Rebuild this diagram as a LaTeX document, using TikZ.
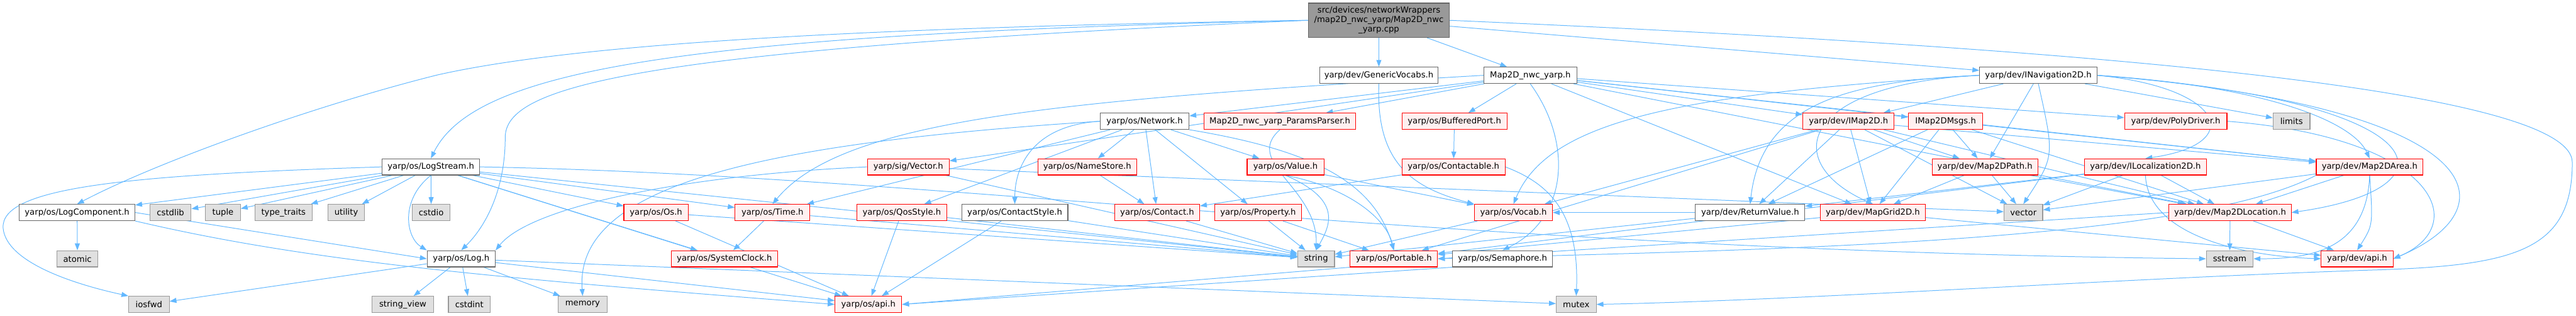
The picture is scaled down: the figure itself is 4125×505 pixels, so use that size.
\documentclass[tikz,border=0pt]{standalone}
\usepackage{fontspec}
\setmainfont{DejaVu Sans}
\usetikzlibrary{arrows.meta}
\definecolor{eb}{HTML}{63B8FF}
\definecolor{redb}{HTML}{FF0000}
\definecolor{redf}{HTML}{FFF0F0}
\definecolor{grf}{HTML}{E0E0E0}
\definecolor{grb}{HTML}{999999}
\definecolor{nb}{HTML}{666666}
\pgfdeclarelayer{bg}
\pgfsetlayers{bg,main}
\begin{document}
\begin{tikzpicture}[x=1pt,y=-1pt,
 box/.style={rectangle,draw=nb,fill=white,line width=1.1pt,minimum height=26pt,inner sep=0pt,font=\fontsize{13.3}{15}\selectfont},
 rbox/.style={box,draw=redb,fill=redf},
 sbox/.style={box,draw=grb,fill=grf},
 dep/.style={draw=eb,line width=1pt,-{Triangle[length=11pt,width=8pt]}}]
\useasboundingbox (0,0) rectangle (4125,505);
% row 1
\node[box,fill=grb,draw=nb,minimum width=226pt,minimum height=55pt,align=center] (root) at (2208,32.5) {src/devices/networkWrappers\\/map2D\_nwc\_yarp/Map2D\_nwc\\\_yarp.cpp};
% row 2
\node[box,minimum width=190pt] (gv) at (2208,120.5) {yarp/dev/GenericVocabs.h};
\node[box,minimum width=149pt] (m2h) at (2450.5,120.5) {Map2D\_nwc\_yarp.h};
\node[box,minimum width=188pt] (inav) at (3264,120.5) {yarp/dev/INavigation2D.h};
% row 3
\node[box,minimum width=142pt] (net) at (1833,194) {yarp/os/Network.h};
\node[rbox,minimum width=243pt] (pp) at (2049.5,194) {Map2D\_nwc\_yarp\_ParamsParser.h};
\node[rbox,minimum width=168pt] (bp) at (2329,194) {yarp/os/BufferedPort.h};
\node[rbox,minimum width=146pt] (imap) at (2960,194) {yarp/dev/IMap2D.h};
\node[rbox,minimum width=119pt] (msgs) at (3115.5,194) {IMap2DMsgs.h};
\node[rbox,minimum width=164pt] (poly) at (3484,194) {yarp/dev/PolyDriver.h};
\node[sbox,minimum width=59pt] (limits) at (3669.5,194) {limits};
% row 4
\node[box,minimum width=156pt] (ls) at (690,267) {yarp/os/LogStream.h};
\node[rbox,minimum width=131pt] (vec) at (1454.5,267) {yarp/sig/Vector.h};
\node[rbox,minimum width=158pt] (ns) at (1741,267) {yarp/os/NameStore.h};
\node[rbox,minimum width=123pt] (val) at (2058.5,267) {yarp/os/Value.h};
\node[rbox,minimum width=165pt] (cbl) at (2327.5,267) {yarp/os/Contactable.h};
\node[rbox,minimum width=169pt] (path) at (3178.5,267) {yarp/dev/Map2DPath.h};
\node[rbox,minimum width=195pt] (iloc) at (3435.5,267) {yarp/dev/ILocalization2D.h};
\node[rbox,minimum width=171pt] (area) at (3794.5,267) {yarp/dev/Map2DArea.h};
% row 5
\node[box,minimum width=185pt] (lc) at (123.5,340) {yarp/os/LogComponent.h};
\node[sbox,minimum width=66pt] (cstdlib) at (273,340) {cstdlib};
\node[sbox,minimum width=56pt] (tuple) at (357,340) {tuple};
\node[sbox,minimum width=92pt] (typetraits) at (454,340) {type\_traits};
\node[sbox,minimum width=59pt] (utility) at (554.5,340) {utility};
\node[sbox,minimum width=61pt] (cstdio) at (690.5,340) {cstdio};
\node[rbox,minimum width=103pt] (os) at (1050.5,340) {yarp/os/Os.h};
\node[rbox,minimum width=120pt] (time) at (1237,340) {yarp/os/Time.h};
\node[rbox,minimum width=144pt] (qos) at (1444,340) {yarp/os/QosStyle.h};
\node[box,minimum width=170pt] (cs) at (1625,340) {yarp/os/ContactStyle.h};
\node[rbox,minimum width=136pt] (con) at (1853,340) {yarp/os/Contact.h};
\node[rbox,minimum width=139pt] (prop) at (2014.5,340) {yarp/os/Property.h};
\node[rbox,minimum width=125pt] (voc) at (2423.5,340) {yarp/os/Vocab.h};
\node[box,minimum width=175pt] (rv) at (2802.5,340) {yarp/dev/ReturnValue.h};
\node[rbox,minimum width=168pt] (grid) at (2999,340) {yarp/dev/MapGrid2D.h};
\node[sbox,minimum width=62pt] (vector) at (3240,340) {vector};
\node[rbox,minimum width=196pt] (loc) at (3571,340) {yarp/dev/Map2DLocation.h};
% row 6
\node[sbox,minimum width=66pt] (atomic) at (124,414) {atomic};
\node[box,minimum width=109pt] (log) at (738.5,414) {yarp/os/Log.h};
\node[rbox,minimum width=170pt] (sc) at (1160,414) {yarp/os/SystemClock.h};
\node[sbox,minimum width=59pt] (string) at (2107.5,414) {string};
\node[rbox,minimum width=140pt] (port) at (2232,414) {yarp/os/Portable.h};
\node[box,minimum width=160pt] (sem) at (2406,414) {yarp/os/Semaphore.h};
\node[sbox,minimum width=75pt] (sstream) at (3570.5,414) {sstream};
\node[rbox,minimum width=115pt] (devapi) at (3774.5,414) {yarp/dev/api.h};
% row 7
\node[sbox,minimum width=65pt] (iosfwd) at (238.5,487) {iosfwd};
\node[sbox,minimum width=98pt] (sv) at (645,487) {string\_view};
\node[sbox,minimum width=67pt] (cstdint) at (751.5,487) {cstdint};
\node[sbox,minimum width=78pt] (memory) at (933,487) {memory};
\node[rbox,minimum width=107pt] (osapi) at (1390.5,487) {yarp/os/api.h};
\node[sbox,minimum width=64pt] (mutex) at (2524,487) {mutex};

\begin{pgfonlayer}{bg}
% root
\draw[dep] (root) -- (m2h);
\draw[dep] (root) -- (gv);
\draw[dep] (root) -- (inav);
\draw[dep] (root.west) .. controls (1300,45) and (900,75) .. (700,120) .. controls (500,170) and (250,260) .. (lc.north);
\draw[dep] (root.west) .. controls (1100,55) and (760,110) .. (ls.north);
\draw[dep] (root.west) .. controls (1000,80) and (809,140) .. (809,220) .. controls (809,300) and (780,360) .. (log.north);
\draw[dep] (root.east) .. controls (3300,75) and (4119,140) .. (4119,260) .. controls (4119,400) and (4030,425) .. (3800,432) .. controls (3400,445) and (2900,480) .. (mutex.east);
% GenericVocabs
\draw[dep] (gv.south) .. controls (2203,260) and (2260,300) .. (voc.north west);
% Map2D_nwc_yarp.h
\draw[dep] (m2h) -- (net);
\draw[dep] (m2h) -- (pp);
\draw[dep] (m2h) -- (bp);
\draw[dep] (m2h.south) .. controls (2520,230) and (2510,350) .. (sem.north);
\draw[dep] (m2h) -- (vec);
\draw[dep] (m2h.west) .. controls (1700,160) and (1350,190) .. (time.north);
\draw[dep] (m2h) -- (imap);
\draw[dep] (m2h) -- (msgs);
\draw[dep] (m2h) -- (poly);
\draw[dep] (m2h) -- (grid);
\draw[dep] (m2h) -- (loc);
\draw[dep] (m2h) -- (area);
% Network
\draw[dep] (net) -- (qos);
\draw[dep] (net.west) .. controls (1660,200) and (1625,260) .. (cs.north);
\draw[dep] (net) -- (ns);
\draw[dep] (net) -- (con);
\draw[dep] (net) -- (prop);
\draw[dep] (net) -- (val);
\draw[dep] (net.south east) .. controls (2100,240) and (2200,290) .. (port.north);
\draw[dep] (net.west) .. controls (1200,230) and (920,300) .. (memory.north);
\draw[dep] (net) -- (time);
% misc os
\draw[dep] (ns) -- (con);
\draw[dep] (val) -- (voc);
\draw[dep] (val.south) .. controls (2150,320) and (2130,360) .. (string.north);
\draw[dep] (val.south) .. controls (2160,300) and (2220,350) .. (port.north);
\draw[dep] (prop) -- (string);
\draw[dep] (prop) -- (port);
\draw[dep] (con) -- (string);
\draw[dep] (cs) -- (osapi);
\draw[dep] (cs) -- (string);
\draw[dep] (qos) -- (osapi);
\draw[dep] (qos) -- (string);
\draw[dep] (vec.west) .. controls (1100,280) and (850,330) .. (log.north east);
\draw[dep] (vec) -- (string);
\draw[dep] (vec) -- (vector);
\draw[dep] (cbl.east) .. controls (2470,290) and (2530,330) .. (mutex.north);
\draw[dep] (cbl) -- (con);
\draw[dep] (bp) -- (cbl);
\draw[dep] (pp.south) .. controls (1990,260) and (2110,300) .. (string.north);
\draw[dep] (voc) -- (string);
\draw[dep] (sem.south west) -- (osapi.east);
\draw[dep] (port.south west) -- (osapi.east);
\draw[dep] (os) -- (osapi);
\draw[dep] (os) -- (string);
\draw[dep] (time) -- (sc);
\draw[dep] (time) -- (string);
% LogComponent / Log
\draw[dep] (lc) -- (atomic);
\draw[dep] (lc.east) -- (log.west);
\draw[dep] (lc.south east) .. controls (500,420) and (800,445) .. (osapi.west);
\draw[dep] (log) -- (iosfwd);
\draw[dep] (log) -- (sv);
\draw[dep] (log) -- (cstdint);
\draw[dep] (log) -- (memory);
\draw[dep] (log) -- (osapi);
\draw[dep] (log) -- (mutex);
% LogStream
\draw[dep] (ls.west) .. controls (200,280) and (0,300) .. (5,365) .. controls (10,420) and (120,455) .. (iosfwd.north west);
\draw[dep] (ls) -- (lc);
\draw[dep] (ls) -- (cstdlib);
\draw[dep] (ls) -- (tuple);
\draw[dep] (ls) -- (typetraits);
\draw[dep] (ls) -- (utility);
\draw[dep] (ls) -- (cstdio);
\draw[dep] (ls.south) .. controls (640,320) and (650,380) .. (log.north west);
\draw[dep] (ls) -- (os);
\draw[dep] (ls) -- (time);
\draw[dep] (ls) -- (sc);
\draw[dep] (ls) -- (osapi);
\draw[dep] (ls) -- (string);
\draw[dep] (ls.east) .. controls (1500,280) and (2300,400) .. (sstream.west);
% dev headers
\draw[dep] (imap) -- (rv);
\draw[dep] (imap) -- (grid);
\draw[dep] (imap) -- (path);
\draw[dep] (imap) -- (vector);
\draw[dep] (imap) -- (loc);
\draw[dep] (imap) -- (area);
\draw[dep] (imap) -- (voc);
\draw[dep] (imap) -- (port);
\draw[dep] (msgs) -- (rv);
\draw[dep] (msgs) -- (grid);
\draw[dep] (msgs) -- (path);
\draw[dep] (msgs) -- (loc);
\draw[dep] (msgs) -- (area);
\draw[dep] (path) -- (grid);
\draw[dep] (path) -- (vector);
\draw[dep] (path) -- (loc);
\draw[dep] (iloc) -- (rv);
\draw[dep] (iloc) -- (vector);
\draw[dep] (iloc) -- (loc);
\draw[dep] (iloc.south) .. controls (3440,380) and (3600,410) .. (devapi.west);
\draw[dep] (iloc) -- (port);
\draw[dep] (area) -- (loc);
\draw[dep] (area.south) .. controls (3800,360) .. (devapi.north);
\draw[dep] (area.south) .. controls (3790,400) and (3700,414) .. (sstream.east);
\draw[dep] (area) -- (vector);
\draw[dep] (area.south west) .. controls (3500,390) and (2800,400) .. (port.east);
\draw[dep] (loc) -- (sstream);
\draw[dep] (loc) -- (devapi);
\draw[dep] (loc.west) -- (port.east);
\draw[dep] (grid) -- (devapi);
\draw[dep] (grid) -- (port);
\draw[dep] (rv) -- (string);
\draw[dep] (rv) -- (voc);
% INavigation2D
\draw[dep] (inav) -- (imap);
\draw[dep] (inav) -- (path);
\draw[dep] (inav.south) .. controls (3290,250) .. (vector.north);
\draw[dep] (inav.west) .. controls (2950,130) and (2820,170) .. (rv.north);
\draw[dep] (inav.west) .. controls (2880,135) and (2850,260) .. (grid.north);
\draw[dep] (inav.east) .. controls (3560,140) and (3600,230) .. (iloc.north);
\draw[dep] (inav.east) .. controls (3650,140) and (3770,200) .. (area.north);
\draw[dep] (inav.east) .. controls (3900,160) and (3950,300) .. (loc.east);
\draw[dep] (inav.east) .. controls (3980,170) and (4030,330) .. (devapi.east);
\draw[dep] (inav) -- (limits);
\draw[dep] (inav.west) .. controls (2700,150) and (2480,190) .. (voc.north);
% PolyDriver
\draw[dep] (poly.east) .. controls (3900,220) and (3960,360) .. (devapi.east);
\end{pgfonlayer}
\end{tikzpicture}
\end{document}
